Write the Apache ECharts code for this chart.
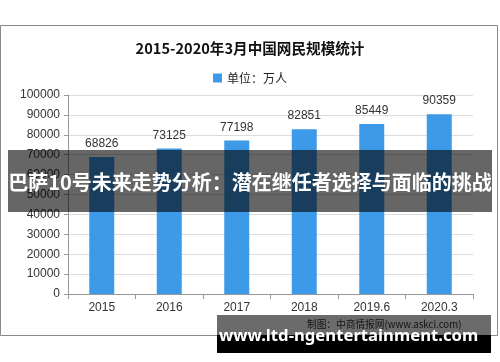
<!DOCTYPE html>
<html><head><meta charset="utf-8">
<script src="https://cdn.jsdelivr.net/npm/echarts@6/dist/echarts.min.js"></script>
<style>html,body{margin:0;padding:0;background:#fff}#c{width:500px;height:362px}</style>
</head><body><div id="c"></div>
<script>
var categories = ['2015', '2016', '2017', '2018', '2019.6', '2020.3'];
var users = [68826, 73125, 77198, 82851, 85449, 90359];
var yTicks = [0, 10000, 20000, 30000, 40000, 50000, 60000, 70000, 80000, 90000, 100000];
var titleText = '2015-2020年3月中国网民规模统计';
var legendText = '单位：万人';
var sourceText = '制图：中商情报网(www.askci.com)';
var bannerText = '巴萨10号未来走势分析：潜在继任者选择与面临的挑战';
var siteText = 'www.ltd-ngentertainment.com';

function fitSize(text, weight, family, width) {
  var ctx = document.createElement('canvas').getContext('2d');
  ctx.font = weight + ' 100px ' + family;
  return Math.floor(100 * width / ctx.measureText(text).width * 10) / 10;
}
var titleSize = fitSize(titleText, 'bold', '"Noto Sans CJK SC"', 230);
var siteSize = fitSize(siteText, 'bold', '"Noto Sans"', 260);
var sourceSize = fitSize(sourceText, 'normal', '"Noto Sans CJK SC"', 156);

var chart = echarts.init(document.getElementById('c'), null, {renderer: 'canvas'});
chart.setOption({
  animation: false,
  backgroundColor: '#fff',
  title: {
    text: titleText, left: 'center', top: 36,
    textStyle: {fontFamily: 'Noto Sans CJK SC', fontWeight: 'bold', fontSize: titleSize, color: '#111'}
  },
  legend: {
    data: [legendText], top: 67, left: 'center', itemWidth: 9, itemHeight: 9, itemGap: 4,
    icon: 'rect',
    textStyle: {fontFamily: 'Noto Sans CJK SC', fontSize: 12, color: '#222'}
  },
  grid: {left: 68, right: 27, top: 95, bottom: 68},
  xAxis: {
    type: 'category', data: categories, boundaryGap: true,
    axisLine: {lineStyle: {color: '#999'}},
    axisTick: {show: true, length: 5, lineStyle: {color: '#999'}},
    axisLabel: {margin: 8, fontFamily: 'Liberation Sans', fontSize: 12, color: '#333'}
  },
  yAxis: {
    type: 'value', min: yTicks[0], max: yTicks[yTicks.length - 1], interval: yTicks[1] - yTicks[0],
    axisLine: {show: true, lineStyle: {color: '#999'}},
    axisTick: {show: true, length: 4, lineStyle: {color: '#999'}},
    axisLabel: {margin: 8, fontFamily: 'Liberation Sans', fontSize: 12, color: '#333', formatter: function (v) { return String(v); }},
    splitLine: {lineStyle: {color: '#dcdcdc'}}
  },
  series: [{
    name: legendText, type: 'bar', data: users, barWidth: 25,
    itemStyle: {color: '#3c9ae8'},
    label: {show: true, position: 'top', distance: 7, fontFamily: 'Liberation Sans', fontSize: 12, color: '#333'}
  }],
  graphic: [
    {type: 'rect', z: 100, silent: true, shape: {x: 0.5, y: 25.5, width: 497, height: 310}, style: {fill: 'none', stroke: '#8a8a8a', lineWidth: 1}},
    {type: 'text', z: 100, silent: true, x: 307, y: 324, style: {text: sourceText, font: sourceSize + 'px "Noto Sans CJK SC"', fill: '#333', textVerticalAlign: 'middle'}},
    {type: 'rect', z: 200, silent: true, shape: {x: 8, y: 150, width: 484, height: 62}, style: {fill: 'rgba(0,0,0,0.6)'}},
    {type: 'text', z: 201, silent: true, left: 'center', top: 172, style: {text: bannerText, font: 'bold 20px "Noto Sans CJK SC"', fill: '#fff'}},
    {type: 'rect', z: 200, silent: true, shape: {x: 217, y: 315, width: 274, height: 20}, style: {fill: 'rgba(0,0,0,0.58)'}},
    {type: 'rect', z: 200, silent: true, shape: {x: 217, y: 335, width: 274, height: 18}, style: {fill: '#000'}},
    {type: 'text', z: 201, silent: true, x: 219, y: 336, style: {text: siteText, font: 'bold ' + siteSize + 'px "Noto Sans"', fill: '#fff', textVerticalAlign: 'middle'}}
  ]
});
</script></body></html>
